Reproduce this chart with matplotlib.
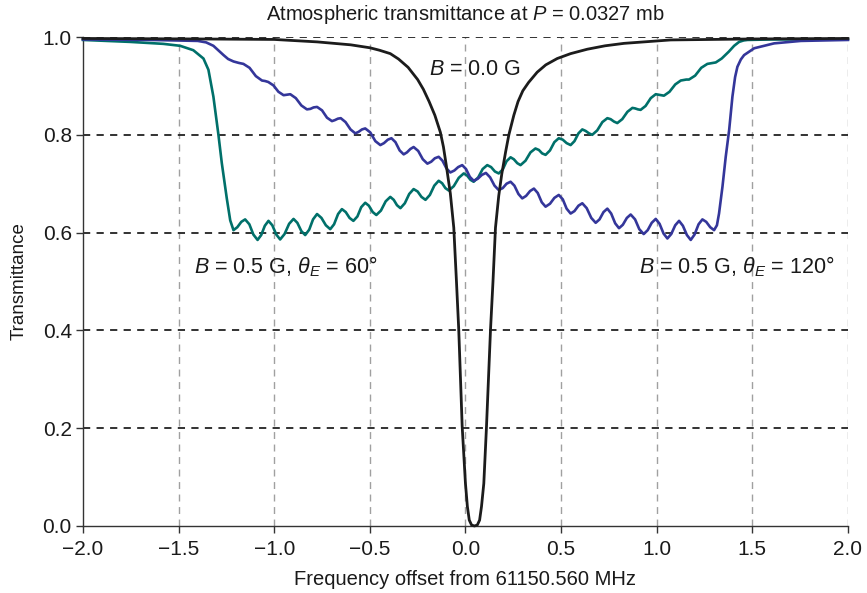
import matplotlib
matplotlib.use("Agg")
import matplotlib.pyplot as plt
from matplotlib.ticker import FuncFormatter

plt.rcParams['font.family'] = ['Liberation Sans', 'DejaVu Sans']
plt.rcParams['mathtext.fontset'] = 'custom'
plt.rcParams['mathtext.rm'] = 'Liberation Sans'
plt.rcParams['mathtext.it'] = 'Liberation Sans:italic'

# ---- data ----
black_x = [-2.000, -1.400, -1.000, -0.775, -0.600, -0.500, -0.450, -0.393, -0.350, -0.300,
           -0.250, -0.220, -0.190, -0.160, -0.131, -0.115, -0.100, -0.079, -0.061, -0.047,
           -0.035, -0.017, 0.000, 0.010, 0.020, 0.032, 0.047, 0.062, 0.074, 0.084,
           0.096, 0.110, 0.131, 0.144, 0.157, 0.174, 0.190, 0.210, 0.227, 0.253,
           0.275, 0.300, 0.330, 0.375, 0.420, 0.480, 0.550, 0.637, 0.730, 0.829,
           1.073, 1.500, 2.000]
black_y = [0.997, 0.996, 0.995, 0.990, 0.984, 0.978, 0.973, 0.966, 0.955, 0.938,
           0.913, 0.893, 0.868, 0.840, 0.805, 0.775, 0.737, 0.680, 0.610, 0.500,
           0.401, 0.203, 0.087, 0.040, 0.012, 0.002, 0.000, 0.002, 0.012, 0.040,
           0.087, 0.203, 0.401, 0.500, 0.610, 0.675, 0.720, 0.765, 0.800, 0.840,
           0.868, 0.890, 0.907, 0.928, 0.943, 0.956, 0.966, 0.975, 0.982, 0.987,
           0.994, 0.996, 0.997]

teal_x = [-2.000, -1.754, -1.580, -1.492, -1.423, -1.370, -1.344, -1.318, -1.292, -1.274,
          -1.248, -1.230, -1.213, -1.193, -1.172, -1.152, -1.130, -1.109, -1.087, -1.068,
          -1.049, -1.030, -1.010, -0.989, -0.969, -0.946, -0.922, -0.899, -0.879, -0.858,
          -0.838, -0.817, -0.797, -0.776, -0.753, -0.730, -0.707, -0.687, -0.666, -0.646,
          -0.626, -0.606, -0.586, -0.565, -0.545, -0.524, -0.505, -0.485, -0.466, -0.442,
          -0.417, -0.393, -0.375, -0.358, -0.340, -0.317, -0.294, -0.271, -0.250, -0.230,
          -0.209, -0.186, -0.163, -0.140, -0.122, -0.105, -0.087, -0.061, -0.035, -0.009,
          0.008, 0.026, 0.043, 0.067, 0.090, 0.114, 0.134, 0.154, 0.174, 0.195,
          0.215, 0.236, 0.253, 0.271, 0.288, 0.314, 0.340, 0.366, 0.384, 0.401,
          0.419, 0.442, 0.465, 0.488, 0.509, 0.529, 0.550, 0.570, 0.591, 0.611,
          0.628, 0.646, 0.663, 0.689, 0.716, 0.742, 0.759, 0.777, 0.794, 0.820,
          0.847, 0.873, 0.887, 0.902, 0.916, 0.942, 0.969, 0.995, 1.009, 1.024,
          1.038, 1.067, 1.097, 1.126, 1.140, 1.155, 1.169, 1.201, 1.233, 1.265,
          1.280, 1.294, 1.309, 1.340, 1.377, 1.405, 1.431, 1.455, 1.475, 1.600,
          2.000]
teal_y = [0.994, 0.990, 0.986, 0.982, 0.973, 0.956, 0.933, 0.878, 0.801, 0.742,
          0.670, 0.625, 0.605, 0.611, 0.622, 0.627, 0.617, 0.596, 0.585, 0.595,
          0.614, 0.624, 0.615, 0.596, 0.586, 0.597, 0.618, 0.628, 0.620, 0.603,
          0.595, 0.606, 0.627, 0.638, 0.630, 0.615, 0.607, 0.617, 0.638, 0.648,
          0.642, 0.630, 0.624, 0.633, 0.652, 0.661, 0.655, 0.642, 0.636, 0.645,
          0.664, 0.673, 0.667, 0.656, 0.650, 0.660, 0.679, 0.689, 0.684, 0.673,
          0.667, 0.677, 0.696, 0.706, 0.701, 0.691, 0.686, 0.695, 0.712, 0.721,
          0.717, 0.708, 0.704, 0.713, 0.730, 0.738, 0.734, 0.725, 0.721, 0.729,
          0.746, 0.754, 0.750, 0.742, 0.738, 0.747, 0.764, 0.772, 0.769, 0.762,
          0.759, 0.768, 0.785, 0.793, 0.790, 0.783, 0.779, 0.787, 0.803, 0.811,
          0.808, 0.803, 0.800, 0.809, 0.826, 0.834, 0.832, 0.827, 0.824, 0.832,
          0.847, 0.855, 0.854, 0.852, 0.851, 0.859, 0.875, 0.883, 0.882, 0.881,
          0.880, 0.888, 0.903, 0.911, 0.912, 0.913, 0.913, 0.921, 0.937, 0.945,
          0.946, 0.947, 0.948, 0.956, 0.970, 0.982, 0.990, 0.993, 0.994, 0.995,
          0.995]

blue_x = [-2.000, -1.650, -1.400, -1.356, -1.318, -1.293, -1.265, -1.241, -1.213, -1.185,
          -1.161, -1.129, -1.096, -1.064, -1.048, -1.031, -1.004, -0.978, -0.951, -0.933,
          -0.916, -0.887, -0.858, -0.829, -0.811, -0.794, -0.776, -0.750, -0.724, -0.698,
          -0.683, -0.667, -0.652, -0.627, -0.601, -0.576, -0.559, -0.541, -0.524, -0.498,
          -0.471, -0.445, -0.426, -0.406, -0.387, -0.366, -0.344, -0.323, -0.306, -0.288,
          -0.271, -0.247, -0.223, -0.199, -0.179, -0.160, -0.140, -0.120, -0.099, -0.079,
          -0.058, -0.038, -0.017, 0.003, 0.023, 0.043, 0.064, 0.086, 0.107, 0.129,
          0.152, 0.174, 0.195, 0.215, 0.236, 0.256, 0.277, 0.297, 0.317, 0.338,
          0.358, 0.378, 0.399, 0.419, 0.442, 0.465, 0.488, 0.509, 0.529, 0.550,
          0.570, 0.591, 0.611, 0.634, 0.658, 0.681, 0.701, 0.722, 0.742, 0.762,
          0.783, 0.803, 0.823, 0.844, 0.864, 0.887, 0.909, 0.932, 0.953, 0.974,
          0.995, 1.015, 1.036, 1.056, 1.076, 1.097, 1.117, 1.137, 1.158, 1.178,
          1.198, 1.219, 1.239, 1.259, 1.280, 1.300, 1.315, 1.326, 1.344, 1.361,
          1.379, 1.396, 1.410, 1.422, 1.440, 1.457, 1.510, 1.614, 1.754, 2.000]
blue_y = [0.995, 0.994, 0.992, 0.989, 0.982, 0.973, 0.963, 0.955, 0.950, 0.947,
          0.945, 0.937, 0.920, 0.911, 0.910, 0.908, 0.901, 0.888, 0.881, 0.882,
          0.883, 0.875, 0.860, 0.852, 0.853, 0.856, 0.857, 0.850, 0.835, 0.828,
          0.830, 0.833, 0.834, 0.826, 0.811, 0.803, 0.806, 0.811, 0.813, 0.805,
          0.787, 0.779, 0.783, 0.790, 0.793, 0.785, 0.768, 0.760, 0.764, 0.771,
          0.775, 0.767, 0.750, 0.741, 0.745, 0.752, 0.755, 0.747, 0.731, 0.723,
          0.727, 0.734, 0.738, 0.730, 0.714, 0.706, 0.710, 0.718, 0.722, 0.713,
          0.696, 0.687, 0.691, 0.700, 0.704, 0.696, 0.679, 0.670, 0.675, 0.685,
          0.690, 0.681, 0.662, 0.653, 0.659, 0.671, 0.677, 0.668, 0.649, 0.639,
          0.644, 0.655, 0.660, 0.650, 0.630, 0.620, 0.627, 0.642, 0.649, 0.639,
          0.619, 0.609, 0.616, 0.630, 0.637, 0.627, 0.607, 0.597, 0.605, 0.620,
          0.628, 0.618, 0.598, 0.588, 0.597, 0.615, 0.624, 0.614, 0.595, 0.585,
          0.596, 0.617, 0.627, 0.622, 0.611, 0.605, 0.615, 0.639, 0.694, 0.755,
          0.810, 0.878, 0.918, 0.939, 0.954, 0.963, 0.977, 0.987, 0.992, 0.994]

x_ticks = [-2.0, -1.5, -1.0, -0.5, 0.0, 0.5, 1.0, 1.5, 2.0]
y_ticks = [0.0, 0.2, 0.4, 0.6, 0.8, 1.0]

title = "Atmospheric transmittance at $P$ = 0.0327 mb"
xlabel = "Frequency offset from 61150.560 MHz"
ylabel = "Transmittance"
label_b0 = "$B$ = 0.0 G"
label_60 = r"$B$ = 0.5 G, $\theta_E$ = 60°"
label_120 = r"$B$ = 0.5 G, $\theta_E$ = 120°"

# ---- figure ----
fig = plt.figure(figsize=(8.67, 5.93), dpi=100)
ax = fig.add_axes([0.0957, 0.1130, 0.8823, 0.8246])

for xv in x_ticks[1:]:
    ax.axvline(xv, color='#a0a0a0', lw=1.0, ls=(0, (5, 4)), zorder=1)
for yv in y_ticks[1:]:
    ax.axhline(yv, color='#222222', lw=1.3, ls=(0, (4, 3.5)), zorder=1)

ax.plot(black_x, black_y, color='#1c1c1c', lw=2.0, zorder=4, clip_on=False,
        solid_joinstyle='round')
ax.plot(teal_x, teal_y, color='#00706a', lw=1.9, zorder=3, clip_on=False,
        solid_joinstyle='round')
ax.plot(blue_x, blue_y, color='#34369a', lw=1.9, zorder=3, clip_on=False,
        solid_joinstyle='round')

ax.set_xlim(-2.0, 2.0)
ax.set_ylim(0.0, 1.0)
ax.set_xticks(x_ticks)
ax.set_yticks(y_ticks)
fmt = FuncFormatter(lambda v, p: f"{v:.1f}".replace('-', '\u2212'))
ax.xaxis.set_major_formatter(fmt)
ax.yaxis.set_major_formatter(fmt)

for s in ['top', 'right']:
    ax.spines[s].set_visible(False)
for s in ['left', 'bottom']:
    ax.spines[s].set_color('#333333')
    ax.spines[s].set_linewidth(1.0)

ax.tick_params(axis='both', direction='out', length=5, width=1.0, color='#333333',
               labelsize=15, labelcolor='#1a1a1a')
ax.tick_params(axis='x', pad=5)
ax.tick_params(axis='y', pad=3)

ax.set_title(title, fontsize=14.5, color='#1a1a1a', pad=12)
ax.set_xlabel(xlabel, fontsize=14.5, color='#1a1a1a', labelpad=8)
ax.set_ylabel(ylabel, fontsize=13.5, color='#1a1a1a', labelpad=11)

ax.text(0.052, 0.933, label_b0, fontsize=15.5, ha='center', va='center', color='#1a1a1a')
ax.text(-0.942, 0.530, label_60, fontsize=15.5, ha='center', va='center', color='#1a1a1a')
ax.text(1.419, 0.530, label_120, fontsize=15.5, ha='center', va='center', color='#1a1a1a')

fig.savefig("out.png", dpi=100)
